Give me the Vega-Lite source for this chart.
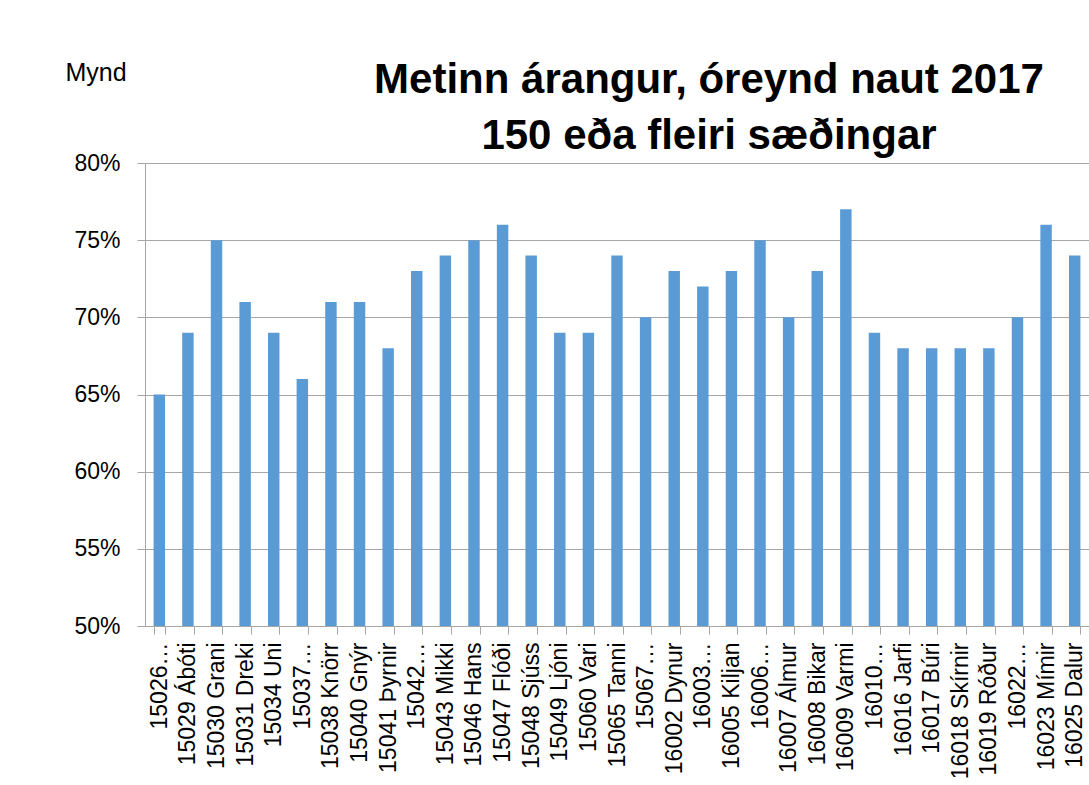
{
  "$schema": "https://vega.github.io/schema/vega-lite/v6.json",
  "width": 944,
  "height": 463,
  "autosize": {"type": "none"},
  "padding": {"left": 145, "top": 163, "right": 0, "bottom": 159},
  "background": "white",
  "title": {
    "text": ["Metinn árangur, óreynd naut 2017", "150 eða fleiri sæðingar"],
    "font": "Liberation Sans",
    "fontSize": 42,
    "fontWeight": "bold",
    "color": "#000000",
    "anchor": "middle",
    "frame": "group",
    "dx": 92,
    "dy": 150,
    "offset": 10,
    "lineHeight": 56,
    "baseline": "bottom"
  },
  "data": {
    "values": [
      {"naut": "15026…", "v": 0.65},
      {"naut": "15029 Ábóti", "v": 0.69},
      {"naut": "15030 Grani", "v": 0.75},
      {"naut": "15031 Dreki", "v": 0.71},
      {"naut": "15034 Uni", "v": 0.69},
      {"naut": "15037…", "v": 0.66},
      {"naut": "15038 Knörr", "v": 0.71},
      {"naut": "15040 Gnýr", "v": 0.71},
      {"naut": "15041 Þyrnir", "v": 0.68},
      {"naut": "15042…", "v": 0.73},
      {"naut": "15043 Mikki", "v": 0.74},
      {"naut": "15046 Hans", "v": 0.75},
      {"naut": "15047 Flóði", "v": 0.76},
      {"naut": "15048 Sjúss", "v": 0.74},
      {"naut": "15049 Ljóni", "v": 0.69},
      {"naut": "15060 Vari", "v": 0.69},
      {"naut": "15065 Tanni", "v": 0.74},
      {"naut": "15067…", "v": 0.70},
      {"naut": "16002 Dynur", "v": 0.73},
      {"naut": "16003…", "v": 0.72},
      {"naut": "16005 Kiljan", "v": 0.73},
      {"naut": "16006…", "v": 0.75},
      {"naut": "16007 Álmur", "v": 0.70},
      {"naut": "16008 Bikar", "v": 0.73},
      {"naut": "16009 Varmi", "v": 0.77},
      {"naut": "16010…", "v": 0.69},
      {"naut": "16016 Jarfi", "v": 0.68},
      {"naut": "16017 Búri", "v": 0.68},
      {"naut": "16018 Skírnir", "v": 0.68},
      {"naut": "16019 Róður", "v": 0.68},
      {"naut": "16022…", "v": 0.70},
      {"naut": "16023 Mímir", "v": 0.76},
      {"naut": "16025 Dalur", "v": 0.74}
    ]
  },
  "mark": {"type": "bar", "color": "#5B9BD5", "clip": true},
  "encoding": {
    "x": {
      "field": "naut",
      "type": "nominal",
      "sort": null,
      "scale": {"paddingInner": 0.6, "paddingOuter": 0.3},
      "axis": {
        "title": null,
        "labelAngle": -90,
        "labelAlign": "right",
        "labelBaseline": "middle",
        "labelFont": "Liberation Sans",
        "labelFontSize": 23,
        "labelColor": "#000000",
        "labelPadding": 8,
        "labelLimit": 250,
        "tickBand": "extent",
        "tickSize": 8,
        "tickColor": "#a6a6a6",
        "domainColor": "#a6a6a6",
        "grid": false
      }
    },
    "y": {
      "field": "v",
      "type": "quantitative",
      "scale": {"domain": [0.5, 0.8], "nice": false, "zero": false},
      "axis": {
        "title": "Mynd",
        "titleAngle": 0,
        "titleAlign": "left",
        "titleBaseline": "middle",
        "titleX": -80,
        "titleY": -91,
        "titleFont": "Liberation Sans",
        "titleFontSize": 25,
        "titleFontWeight": "normal",
        "titleColor": "#000000",
        "format": ".0%",
        "values": [0.5, 0.55, 0.6, 0.65, 0.7, 0.75, 0.8],
        "labelFont": "Liberation Sans",
        "labelFontSize": 23,
        "labelColor": "#000000",
        "labelPadding": 17,
        "tickSize": 8,
        "tickColor": "#a6a6a6",
        "domainColor": "#a6a6a6",
        "grid": true,
        "gridColor": "#a6a6a6"
      }
    }
  },
  "config": {"view": {"stroke": null}}
}
